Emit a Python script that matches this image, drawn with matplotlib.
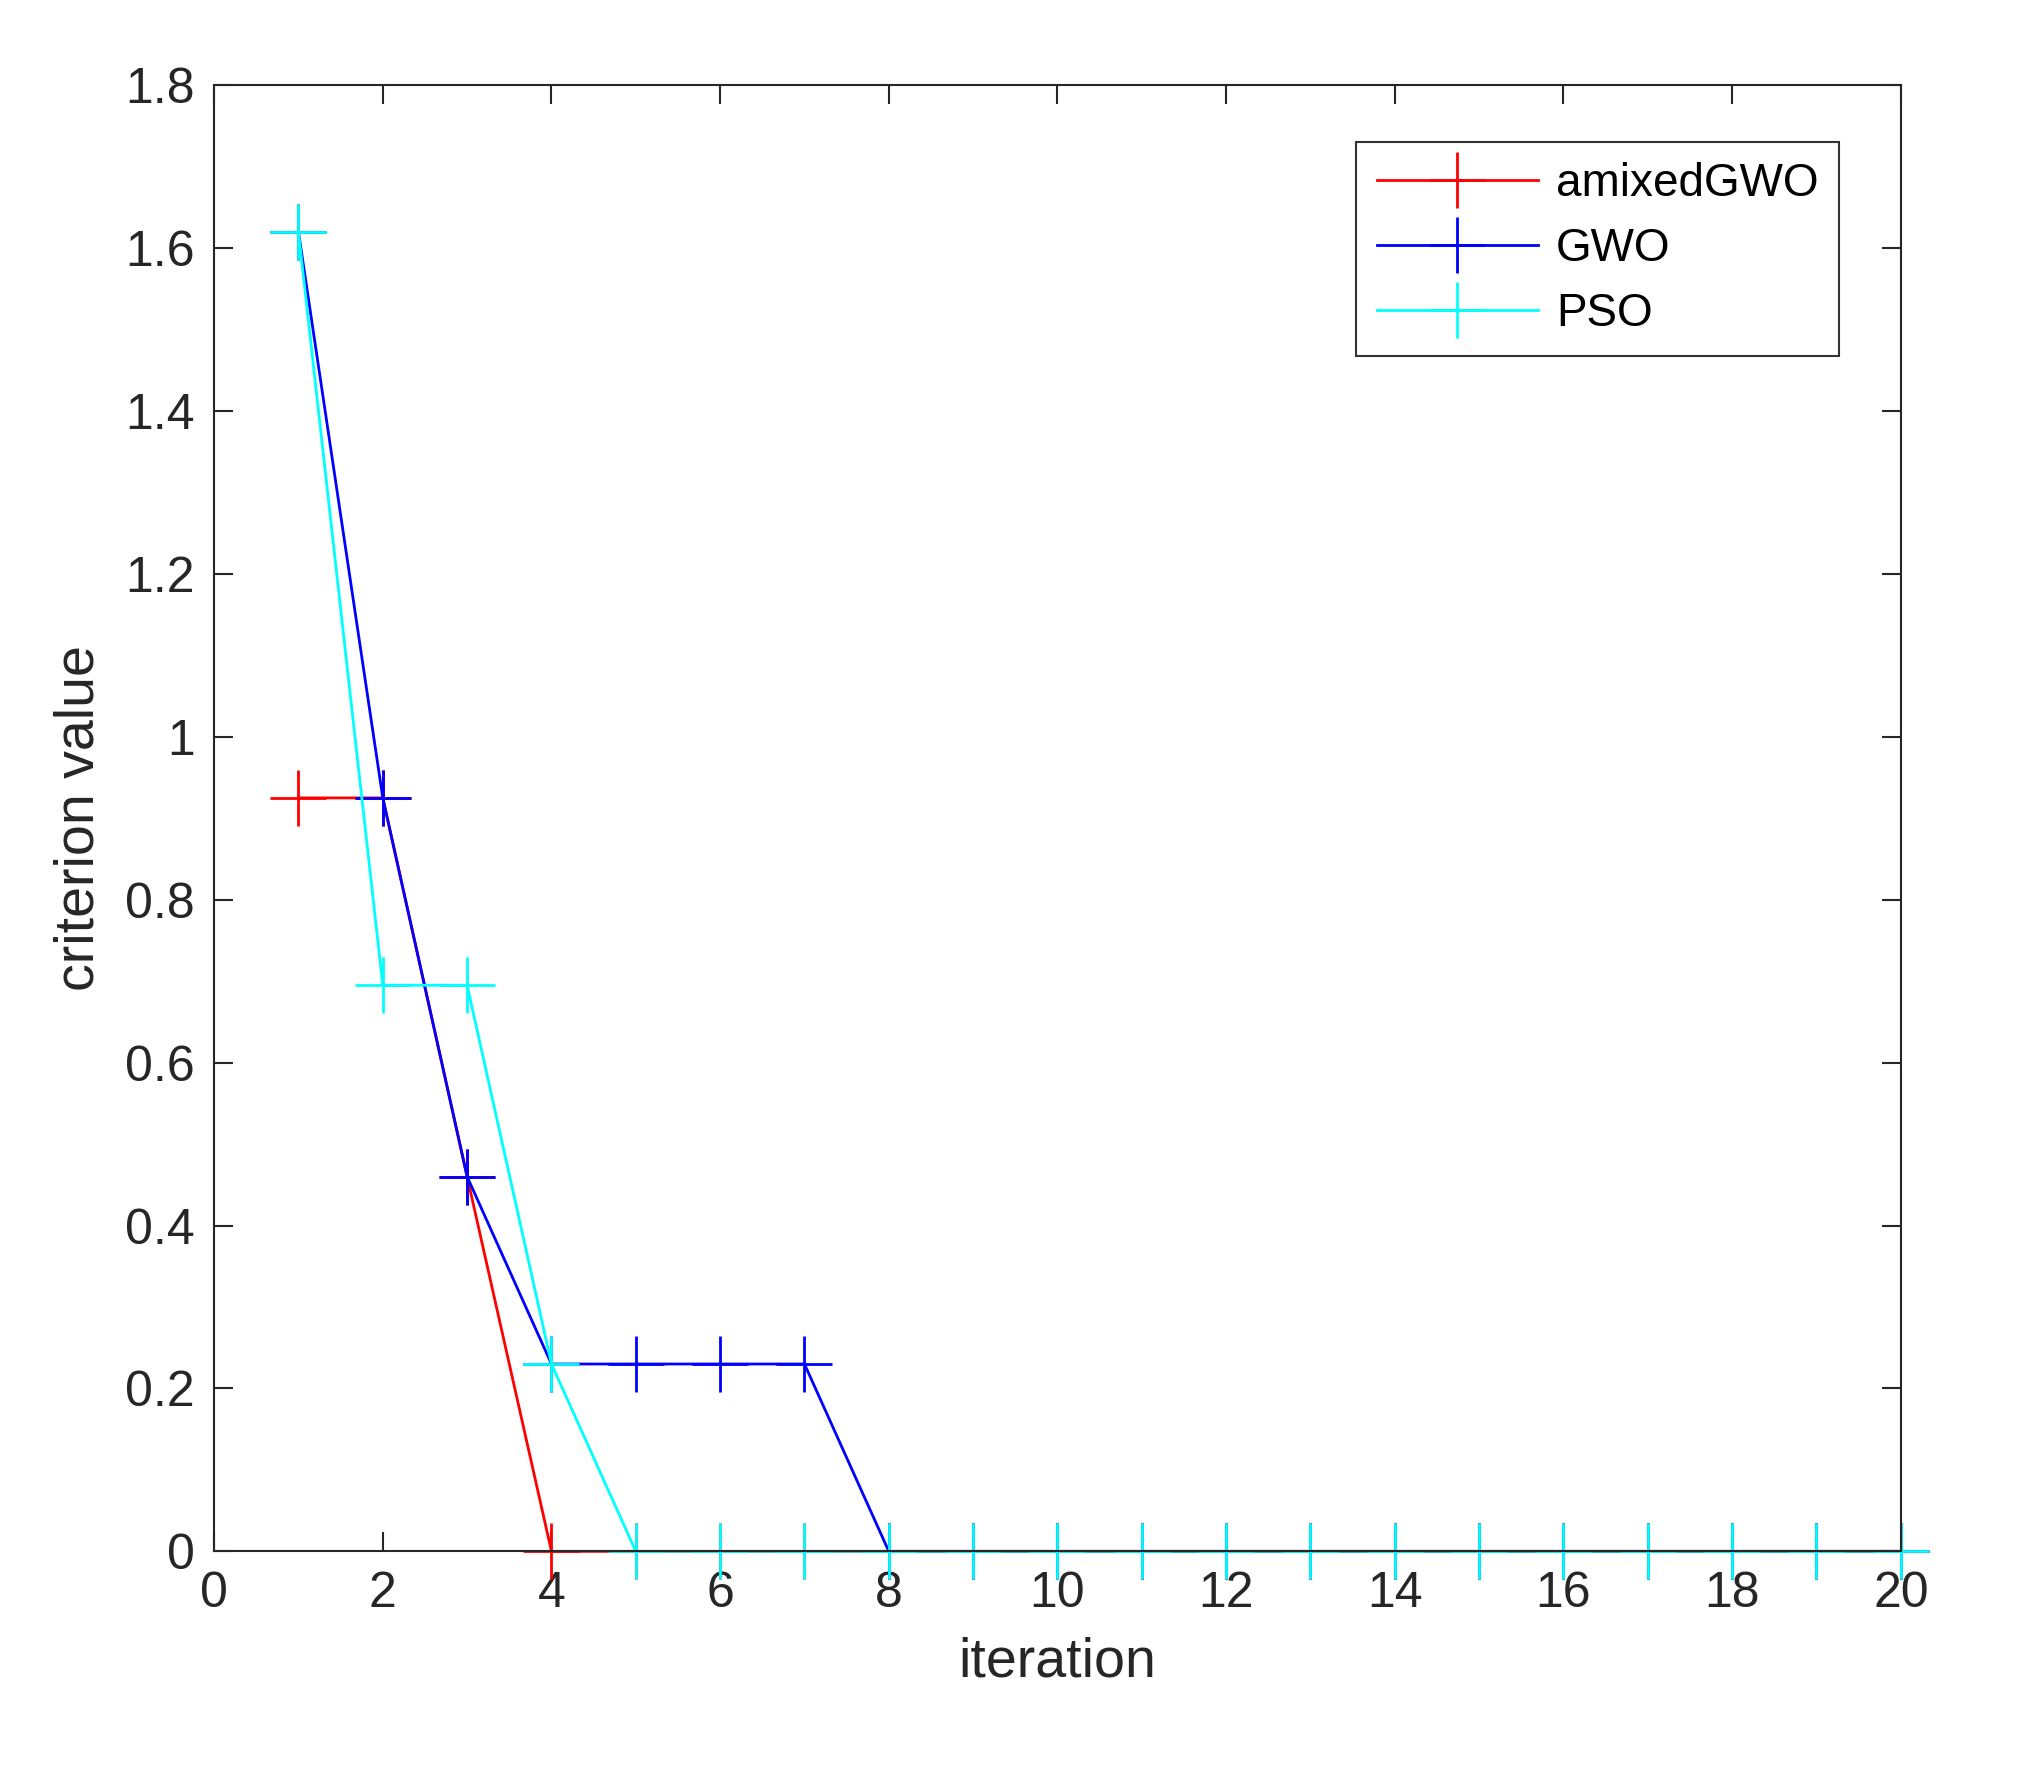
import matplotlib
matplotlib.use("Agg")
import matplotlib.pyplot as plt
import numpy as np

iterations = list(range(1, 21))
amixed = [0.925, 0.925, 0.46] + [0.0] * 17
gwo = [1.62, 0.925, 0.46, 0.23, 0.23, 0.23, 0.23] + [0.0] * 13
pso = [1.62, 0.695, 0.695, 0.23] + [0.0] * 16

plt.rcParams['font.family'] = ['Liberation Sans', 'DejaVu Sans']
fig = plt.figure(figsize=(20.2, 17.75), dpi=100)
ax = fig.add_axes([0.106, 0.126, 0.835, 0.826])
kw = dict(marker='+', markersize=40, markeredgewidth=2, linewidth=2, clip_on=False)
ax.plot(iterations, amixed, color='red', label='amixedGWO', **kw)
ax.plot(iterations, gwo, color='blue', label='GWO', **kw)
ax.plot(iterations, pso, color='cyan', label='PSO', **kw)
ax.set_xlim(0, 20)
ax.set_ylim(0, 1.8)
ax.set_xticks(range(0, 21, 2))
ax.set_yticks(np.arange(0, 1.81, 0.2))
ax.set_yticklabels(['0', '0.2', '0.4', '0.6', '0.8', '1', '1.2', '1.4', '1.6', '1.8'])
ax.tick_params(direction='in', top=True, right=True, length=14, width=1.5, labelsize=36, colors='#262626', pad=14)
for s in ax.spines.values():
    s.set_linewidth(1.5)
    s.set_color('#262626')
ax.set_xlabel('iteration', fontsize=40, color='#262626', labelpad=14)
ax.set_ylabel('criterion value', fontsize=40, color='#262626', labelpad=14)
leg = ax.legend(loc='upper right', fontsize=33, fancybox=False, edgecolor='black',
                markerscale=1.0, handlelength=3.5, bbox_to_anchor=(0.977, 0.977),
                borderpad=0.45, handletextpad=0.4, labelspacing=0.45)
leg.get_frame().set_linewidth(1.5)
fig.savefig('out.png', dpi=100)
